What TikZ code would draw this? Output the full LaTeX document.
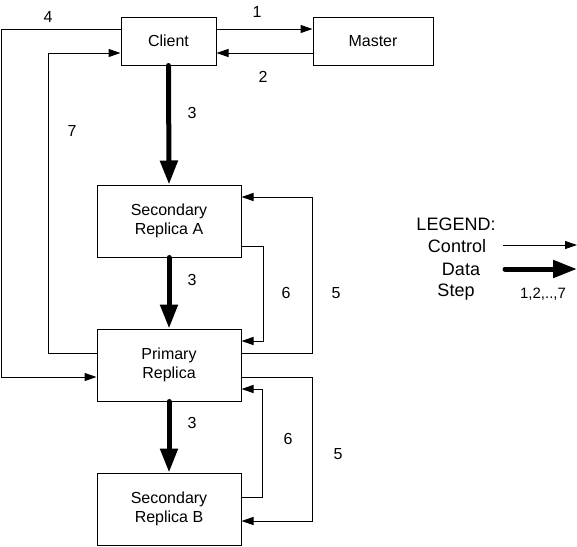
\documentclass[tikz,border=0pt]{standalone}
\usepackage{fontspec}
\setmainfont{Liberation Sans}
\usetikzlibrary{arrows.meta,calc}
\begin{document}
\begin{tikzpicture}[x=1pt,y=-1pt,
  box/.style={draw,line width=1pt,inner sep=0pt,align=center,font=\fontsize{16}{19}\selectfont},
  ctrl/.style={line width=1pt,-{Triangle[length=12pt,width=8pt]}},
  datarrow/.style={line width=5pt,line cap=round,-{Triangle[length=24pt,width=17pt]}},
  lbl/.style={inner sep=0pt,font=\fontsize{16}{19}\selectfont},
  leg/.style={inner sep=0pt,align=center,font=\fontsize{18}{23}\selectfont}]
\useasboundingbox (0,0) rectangle (577,546);

% boxes
\node[box,minimum width=95pt,minimum height=48pt] (client) at (168.5,41) {Client};
\node[box,minimum width=120pt,minimum height=48pt] (master) at (373,41) {Master};
\node[box,minimum width=144pt,minimum height=72pt] (secA) at (169,221) {Secondary\\Replica A};
\node[box,minimum width=144pt,minimum height=72pt] (prim) at (169,365) {Primary\\Replica};
\node[box,minimum width=144pt,minimum height=72pt] (secB) at (169,509) {Secondary\\Replica B};

% control connectors
\draw[ctrl] ([yshift=12pt]client.east) -- ([yshift=12pt]master.west);
\draw[ctrl] ([yshift=-12pt]master.west) -- ([yshift=-12pt]client.east);
\draw[ctrl] ([yshift=12pt]client.west) -| ([xshift=-95pt,yshift=-12pt]prim.west) -- ([yshift=-12pt]prim.west);
\draw[ctrl] ([yshift=12pt]prim.west) -| ([xshift=-72pt,yshift=-12pt]client.west) -- ([yshift=-12pt]client.west);
\draw[ctrl] ([yshift=12pt]prim.east) -| ([xshift=71pt,yshift=24pt]secA.east) -- ([yshift=24pt]secA.east);
\draw[ctrl] ([yshift=-25pt]secA.east) -| ([xshift=22pt,yshift=24pt]prim.east) -- ([yshift=24pt]prim.east);
\draw[ctrl] ([yshift=-12pt]prim.east) -| ([xshift=71pt,yshift=-12pt]secB.east) -- ([yshift=-12pt]secB.east);
\draw[ctrl] ([yshift=12pt]secB.east) -| ([xshift=21pt,yshift=-24pt]prim.east) -- ([yshift=-24pt]prim.east);

% data connectors
\draw[datarrow] (client.south) -- (secA.north);
\draw[datarrow] (secA.south) -- (prim.north);
\draw[datarrow] (prim.south) -- (secB.north);

% step labels
\node[lbl] (l1) at (257,12) {1};
\node[lbl] (l2) at (263,77) {2};
\node[lbl] (l4) at (48,17) {4};
\node[lbl] (l3a) at (192,113) {3};
\node[lbl] (l7) at (72,131) {7};
\node[lbl] (l3b) at (192,280) {3};
\node[lbl] (l6a) at (286,293) {6};
\node[lbl] (l5a) at (336,293) {5};
\node[lbl] (l3c) at (192,423) {3};
\node[lbl] (l6b) at (288,439) {6};
\node[lbl] (l5b) at (338,454) {5};

% legend
\node[leg] (legt) at (456,224) {LEGEND:};
\node[leg] (legc) at (457,246) {Control};
\node[leg] (legd) at (461,269) {Data};
\node[leg] (legs) at (456,292) {Step};
\coordinate (c1) at (503,245);
\coordinate (c2) at (577,245);
\coordinate (d1) at (505,269);
\coordinate (d2) at (577,269);
\draw[ctrl] (c1) -- (c2);
\draw[datarrow] (d1) -- (d2);
\node[lbl,font=\fontsize{15}{18}\selectfont] (legn) at (543,294) {1,2,..,7};
\end{tikzpicture}
\end{document}
